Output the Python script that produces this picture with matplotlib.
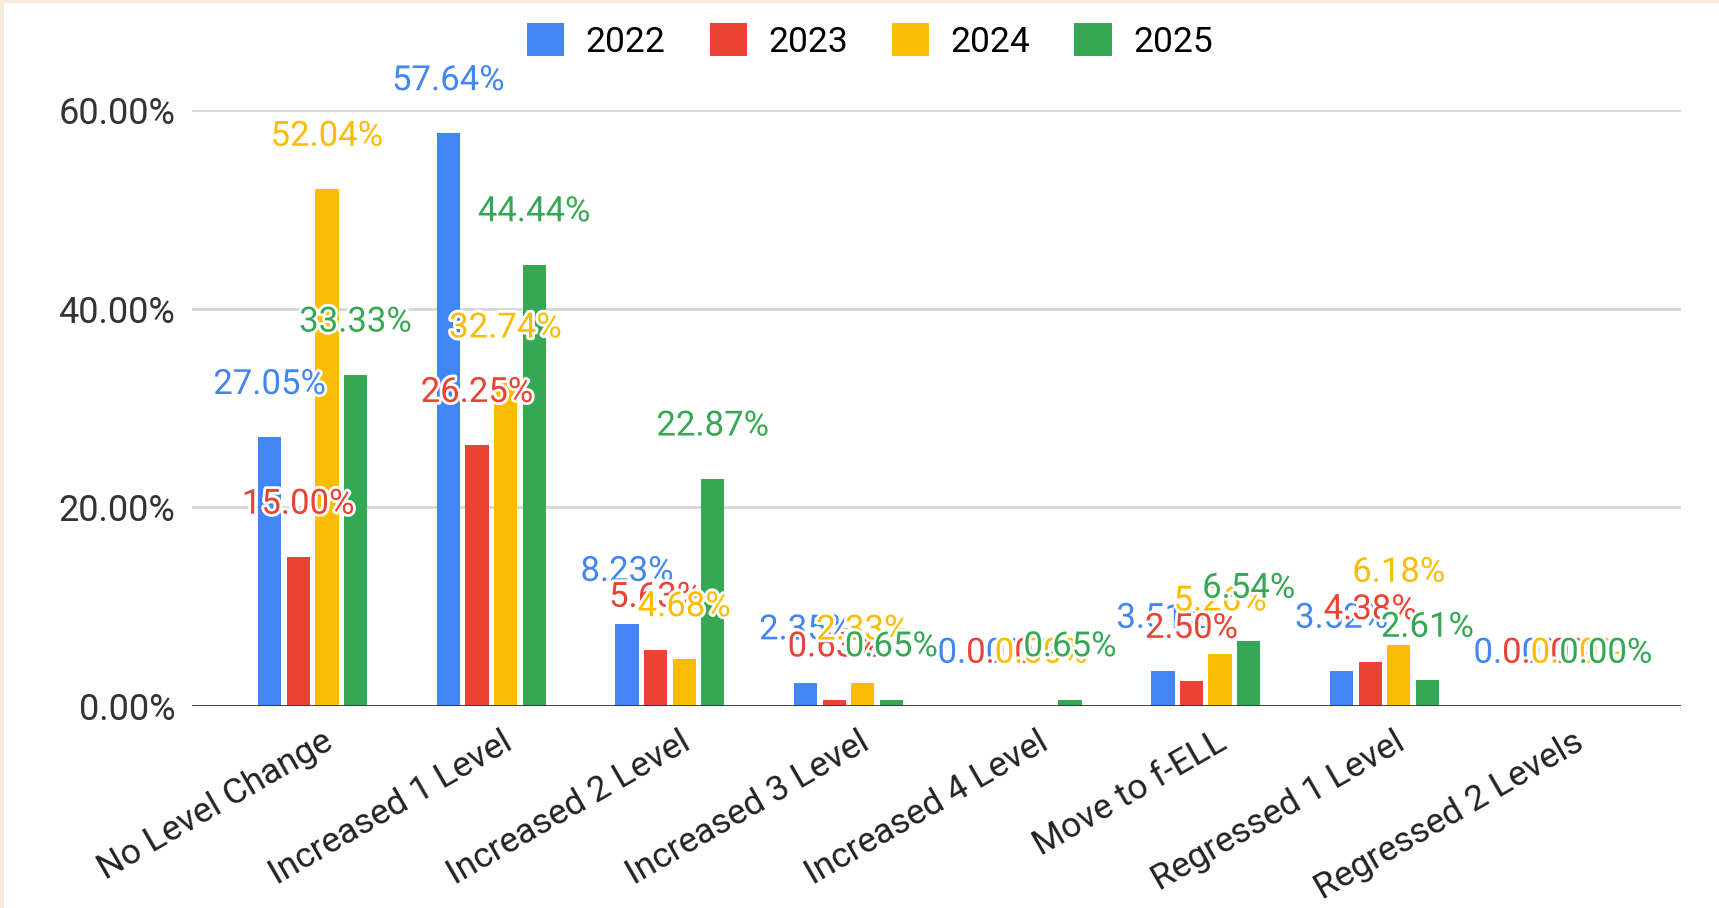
import matplotlib
matplotlib.use("Agg")
import matplotlib.pyplot as plt
import matplotlib.patheffects as pe
from matplotlib.patches import Patch, Rectangle
import numpy as np

plt.rcParams['font.family'] = ['Roboto', 'DejaVu Sans']

categories = ["No Level Change", "Increased 1 Level", "Increased 2 Level",
              "Increased 3 Level", "Increased 4 Level", "Move to f-ELL",
              "Regressed 1 Level", "Regressed 2 Levels"]
years = ["2022", "2023", "2024", "2025"]
v2022 = [27.05, 57.64, 8.23, 2.35, 0.00, 3.51, 3.52, 0.00]
v2023 = [15.00, 26.25, 5.63, 0.63, 0.00, 2.50, 4.38, 0.00]
v2024 = [52.04, 32.74, 4.68, 2.33, 0.00, 5.26, 6.18, 0.00]
v2025 = [33.33, 44.44, 22.87, 0.65, 0.65, 6.54, 2.61, 0.00]
series = [v2022, v2023, v2024, v2025]
yticks = [0, 20, 40, 60]

colors = ["#4285F4", "#EA4335", "#FBBC04", "#34A853"]
# extra vertical nudge (points) for labels that the layout pushes upward
label_nudge = {(2, 6): 14}

fig = plt.figure(figsize=(17.19, 9.08), dpi=100)
fig.patch.set_facecolor("#f7eadb")
fig.add_artist(Rectangle((4 / 1719, 0), 1, 1 - 3 / 908, transform=fig.transFigure,
                         facecolor="white", edgecolor="none", zorder=-10))

ax = fig.add_axes([0.1117, 0.2225, 0.8662, 0.6564])
ax.set_facecolor("white")
ax.patch.set_alpha(0)

x = np.arange(len(categories))
step = 0.16
width = 0.13
for i, (vals, col, yr) in enumerate(zip(series, colors, years)):
    pos = x + (i - 1.5) * step
    ax.bar(pos, vals, width=width, color=col, zorder=3, label=yr)
    for j, (px, v) in enumerate(zip(pos, vals)):
        dy = 38 + label_nudge.get((i, j), 0)
        ax.annotate(f"{v:.2f}%", (px, v), xytext=(0, dy), textcoords="offset points",
                    ha="center", va="center", fontsize=25, color=col, zorder=5,
                    annotation_clip=False,
                    path_effects=[pe.withStroke(linewidth=4, foreground="white")])

ax.set_xlim(-0.675, 7.66)
ax.set_ylim(0, 60)
ax.set_yticks(yticks)
ax.set_yticklabels([f"{t:.2f}%" for t in yticks], fontsize=26, color="#333333")
ax.tick_params(axis="y", length=0, pad=12)
ax.set_xticks([])
ax.grid(axis="y", color="#d6d6d6", linewidth=2, zorder=0)
for s in ["top", "right", "left", "bottom"]:
    ax.spines[s].set_visible(False)
ax.axhline(0, color="#333333", linewidth=2, zorder=4)

for xi, cat in zip(x, categories):
    ax.annotate(cat, (xi, 0), xycoords=("data", "axes fraction"),
                xytext=(7, -14), textcoords="offset points",
                ha="right", va="top", rotation=30, rotation_mode="anchor",
                fontsize=25.5, color="#222222", annotation_clip=False)

handles = [Patch(facecolor=c, edgecolor="none") for c in colors]
fig.legend(handles, years, loc="center", bbox_to_anchor=(0.506, 0.955), ncol=4,
           frameon=False, fontsize=25.5, handlelength=1.05, handleheight=1.05,
           handletextpad=0.6, columnspacing=1.25)

fig.savefig("out.png", dpi=100, facecolor=fig.get_facecolor())
